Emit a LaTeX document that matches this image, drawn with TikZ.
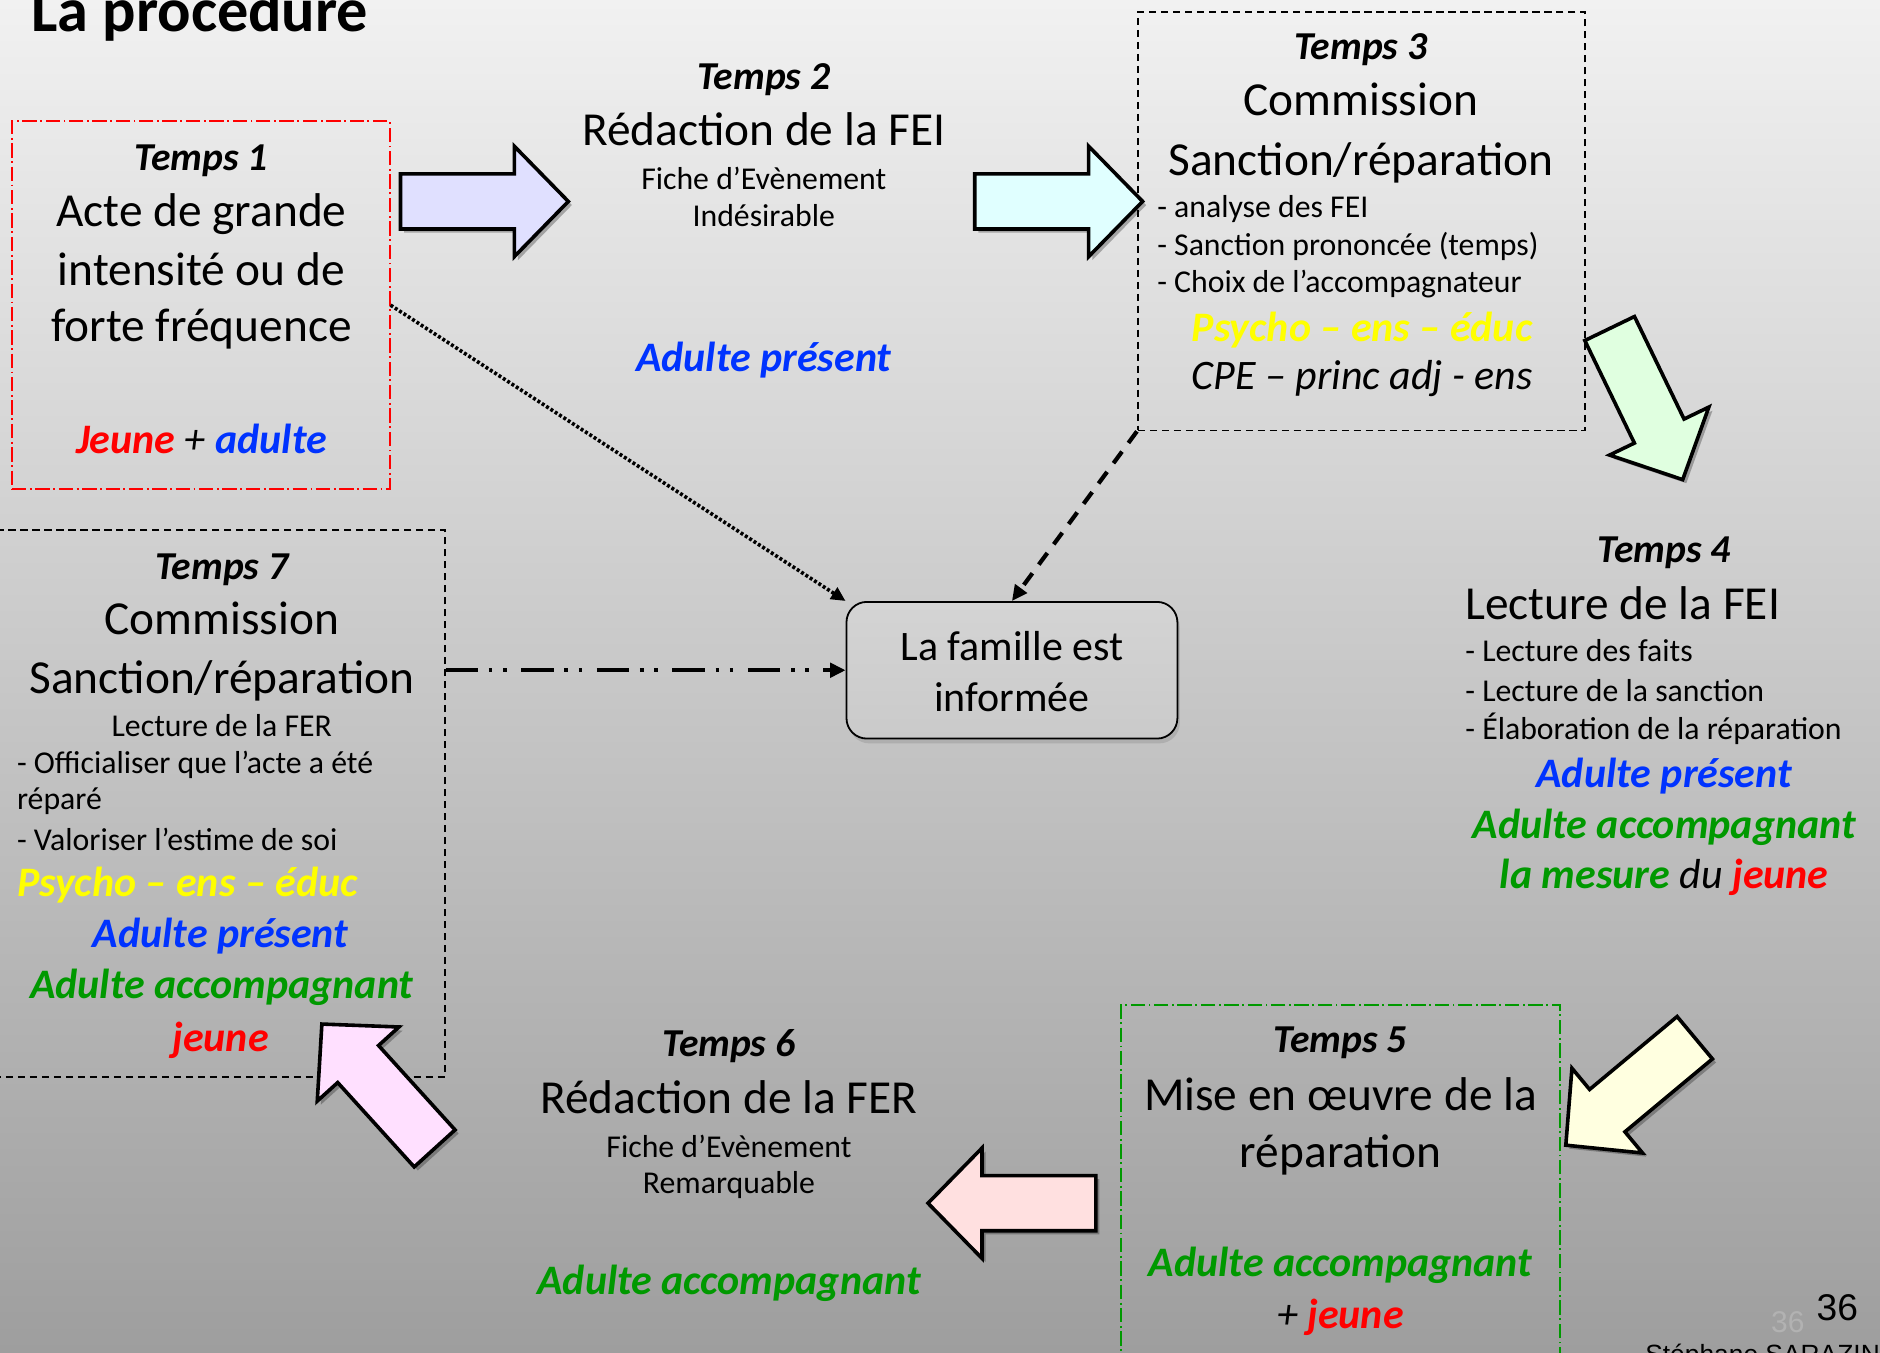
\documentclass[tikz,border=0pt]{standalone}
\usepackage{fontspec}
\setmainfont{Carlito}
\newfontfamily\arialf{Liberation Sans}
\usetikzlibrary{arrows.meta,shadows}
\definecolor{myblue}{RGB}{0,51,255}
\definecolor{mygreen}{RGB}{0,153,0}
\definecolor{myyellow}{RGB}{255,255,0}
\definecolor{myred}{RGB}{255,0,0}
\definecolor{bgtop}{RGB}{241,241,241}
\definecolor{bgmid}{RGB}{206,206,206}
\definecolor{bgbot}{RGB}{158,158,158}
\definecolor{arlav}{RGB}{224,224,255}
\definecolor{arcyan}{RGB}{224,255,255}
\definecolor{argreen}{RGB}{224,255,224}
\definecolor{aryellow}{RGB}{255,255,224}
\definecolor{arrose}{RGB}{255,224,224}
\definecolor{arpink}{RGB}{255,224,255}
\newcommand\fsz[1]{\fontsize{#1}{#1}\selectfont}
\newcommand\blockarrow[4]{%
  \begin{scope}[shift={({#1+3},{#2+3})}, rotate=#3]
    \fill[black, opacity=0.28] (0,-23) -- (95,-23) -- (95,-46) -- (140,0) -- (95,46) -- (95,23) -- (0,23) -- cycle;
  \end{scope}
  \begin{scope}[shift={(#1,#2)}, rotate=#3]
    \draw[line width=3pt, fill=#4, line join=miter] (0,-23) -- (95,-23) -- (95,-46) -- (140,0) -- (95,46) -- (95,23) -- (0,23) -- cycle;
  \end{scope}}
\tikzset{
  redbox/.style={draw=myred, line width=1.5pt, dash pattern=on 12pt off 3pt on 1.5pt off 3pt, inner sep=0pt},
  greenbox/.style={draw=mygreen, line width=1.5pt, dash pattern=on 12pt off 3pt on 1.5pt off 3pt, inner sep=0pt},
  blackbox/.style={draw=black, line width=1.5pt, dash pattern=on 6pt off 4pt, inner sep=0pt},
  head/.style={anchor=base, inner sep=0pt, font=\fsz{33}\bfseries\itshape},
  big/.style={anchor=base, inner sep=0pt, font=\fsz{39.5}},
  small/.style={anchor=base, inner sep=0pt, font=\fsz{26.5}},
  smallL/.style={anchor=base west, inner sep=0pt, font=\fsz{26.5}},
  role/.style={anchor=base, inner sep=0pt, font=\fsz{35}\bfseries\itshape},
  roleL/.style={anchor=base west, inner sep=0pt, font=\fsz{35}\bfseries\itshape},
  dotconn/.style={line width=3pt, dash pattern=on 2.5pt off 1.8pt, -{Triangle[length=12pt,width=11pt]}},
  dashconn/.style={line width=3.5pt, dash pattern=on 12pt off 9pt, -{Triangle[length=13pt,width=12pt]}},
  ddconn/.style={line width=3.5pt, dash pattern=on 27pt off 9pt on 3pt off 9pt on 3pt off 12pt, -{Triangle[length=13pt,width=12pt]}},
}
\begin{document}
\begin{tikzpicture}[x=1pt, y=-1pt]
\useasboundingbox (0,0) rectangle (1568,1128);
\clip (0,0) rectangle (1568,1128);
\shade[top color=bgtop, middle color=bgmid, bottom color=bgbot] (0,0) rectangle (1568,1128);

% title
\node[anchor=base west, inner sep=0pt, font=\fsz{52}\bfseries] (title) at (26,26) {La procedure};

% boxes
\node[redbox, minimum width=315pt, minimum height=307pt] (t1) at (167.5,254.5) {};
\node[blackbox, minimum width=373pt, minimum height=349pt] (t3) at (1135.5,184.5) {};
\node[blackbox, minimum width=376pt, minimum height=456pt] (t7) at (183,670) {};
\node[greenbox, minimum width=366pt, minimum height=302pt] (t5) at (1118,989) {};
\node[draw=black, line width=1.5pt, rounded corners=17pt, minimum width=276pt, minimum height=114pt,
      top color={rgb,255:red,212;green,212;blue,212}, bottom color={rgb,255:red,202;green,202;blue,202},
      drop shadow={shadow xshift=2pt, shadow yshift=-4pt, opacity=0.3}] (fam) at (844,559) {};
\node[anchor=base, inner sep=0pt, font=\fsz{35}] (fam1) at (844,551) {La famille est};
\node[anchor=base, inner sep=0pt, font=\fsz{35}] (fam2) at (844,593) {informée};

% block arrows
\blockarrow{334}{168}{0}{arlav}
\blockarrow{813}{168}{0}{arcyan}
\blockarrow{1342.5}{274}{-64.2}{argreen}
\blockarrow{1413.5}{865.5}{-140.2}{aryellow}
\blockarrow{914}{1003.5}{180}{arrose}
\blockarrow{362.5}{957.8}{132.2}{arpink}

% Temps 1
\node[head] (t1h) at (168,142) {Temps 1};
\node[big] (t1a) at (168,189) {Acte de grande};
\node[big] (t1b) at (168,238) {intensité ou de};
\node[big] (t1c) at (168,285) {forte fréquence};
\node[role] (t1r) at (168,378) {\textcolor{myred}{Jeune} {\mdseries +} \textcolor{myblue}{adulte}};

% Temps 2
\node[head] (t2h) at (637,75) {Temps 2};
\node[big] (t2a) at (637,121) {Rédaction de la FEI};
\node[small] (t2b) at (637,158) {Fiche d’Evènement};
\node[small] (t2c) at (637,189) {Indésirable};
\node[role, text=myblue] (t2r) at (637,310) {Adulte présent};

% Temps 3
\node[head] (t3h) at (1135,50) {Temps 3};
\node[big] (t3a) at (1135,96) {Commission};
\node[big] (t3b) at (1135,146) {Sanction/réparation};
\node[smallL] (t3c) at (965,181) {- analyse des FEI};
\node[smallL] (t3d) at (965,213) {- Sanction prononcée (temps)};
\node[smallL] (t3e) at (965,244) {- Choix de l’accompagnateur};
\node[role, text=myyellow] (t3r) at (1136,285) {Psycho – ens – éduc};
\node[anchor=base, inner sep=0pt, font=\fsz{35}\itshape] (t3s) at (1136,325) {CPE – princ adj - ens};

% Temps 4
\node[head] (t4h) at (1388,469) {Temps 4};
\node[anchor=base west, inner sep=0pt, font=\fsz{39.5}] (t4a) at (1222,517) {Lecture de la FEI};
\node[smallL] (t4b) at (1222,552) {- Lecture des faits};
\node[smallL] (t4c) at (1222,585) {- Lecture de la sanction};
\node[smallL] (t4d) at (1222,617) {- Élaboration de la réparation};
\node[role, text=myblue] (t4r) at (1388,657) {Adulte présent};
\node[role, text=mygreen] (t4s) at (1388,699) {Adulte accompagnant};
\node[role] (t4t) at (1388,741) {\textcolor{mygreen}{la mesure} {\mdseries du} \textcolor{myred}{jeune}};

% Temps 5
\node[head] (t5h) at (1118,878) {Temps 5};
\node[big] (t5a) at (1118,926) {Mise en œuvre de la};
\node[big] (t5b) at (1118,974) {réparation};
\node[role, text=mygreen] (t5r) at (1118,1065) {Adulte accompagnant};
\node[role] (t5s) at (1118,1108) {{\mdseries +} \textcolor{myred}{jeune}};

% Temps 6
\node[head] (t6h) at (608,881) {Temps 6};
\node[big] (t6a) at (608,929) {Rédaction de la FER};
\node[small] (t6b) at (608,965) {Fiche d’Evènement};
\node[small] (t6c) at (608,995) {Remarquable};
\node[role, text=mygreen] (t6r) at (608,1080) {Adulte accompagnant};

% Temps 7
\node[head] (t7h) at (185,483) {Temps 7};
\node[big] (t7a) at (185,529) {Commission};
\node[big] (t7b) at (185,578) {Sanction/réparation};
\node[small] (t7c) at (185,614) {Lecture de la FER};
\node[smallL] (t7d) at (14,645) {- Officialiser que l’acte a été};
\node[smallL] (t7e) at (14,675) {réparé};
\node[smallL] (t7f) at (14,709) {- Valoriser l’estime de soi};
\node[roleL, text=myyellow] (t7r) at (14,748) {Psycho – ens – éduc};
\node[role, text=myblue] (t7s) at (184,790) {Adulte présent};
\node[role, text=mygreen] (t7t) at (185,833) {Adulte accompagnant};
\node[role, text=myred] (t7u) at (184,877) {jeune};

% connectors
\draw[dotconn] (t1.east) -- (fam.north west);
\draw[dashconn] (t3.south west) -- (fam.north);
\draw[ddconn] (t7.east |- fam.west) -- (fam.west);

% footer
\node[anchor=base west, inner sep=0pt, font=\arialf\fsz{25}, text={rgb,255:red,178;green,178;blue,178}] (pg0) at (1477,1111) {36};
\node[anchor=base west, inner sep=0pt, font=\arialf\fsz{31}] (pg) at (1515,1101) {36};
\node[anchor=base west, inner sep=0pt, font=\arialf\fsz{22}] (auth) at (1372,1137) {Stéphane SARAZIN};
\end{tikzpicture}
\end{document}
